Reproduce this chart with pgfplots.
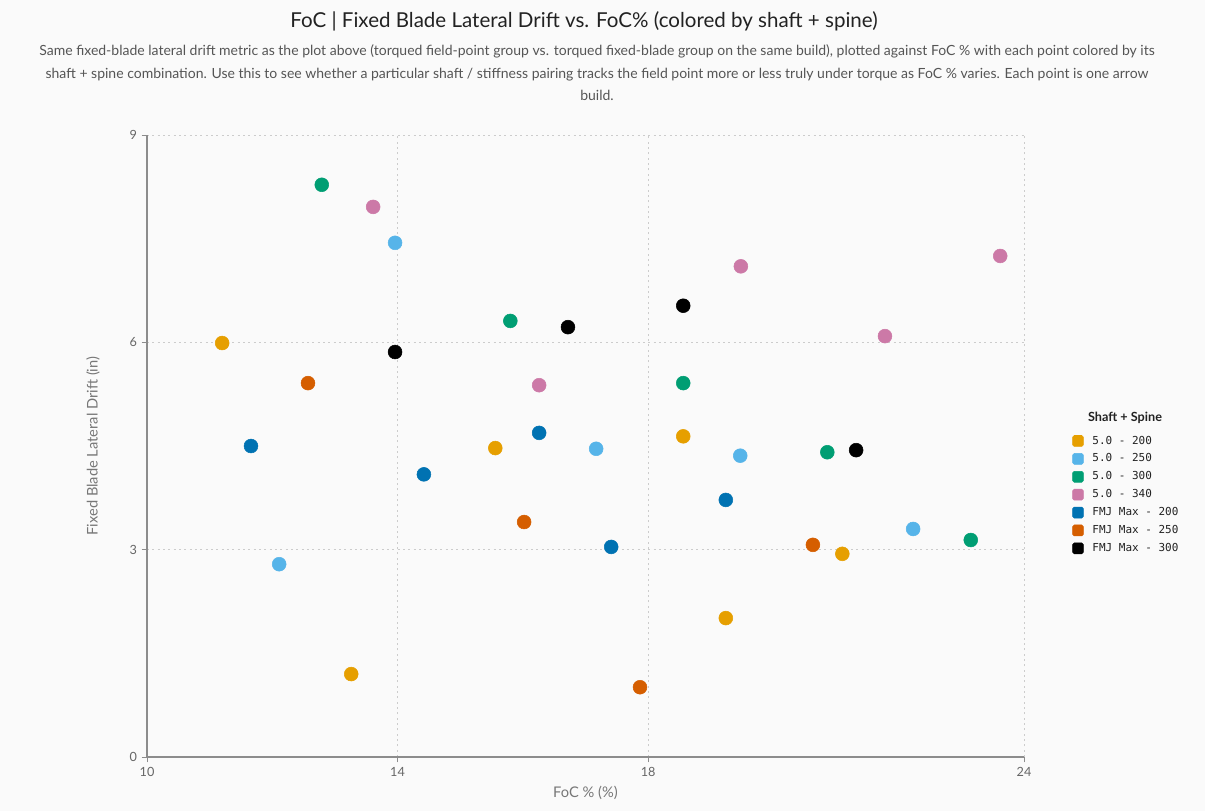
\documentclass[border=0pt]{standalone}
\usepackage{pgfplots}
\pgfplotsset{compat=1.18}
\usepackage{fontspec}
\setmainfont{Lato}
\newfontfamily\monofont{DejaVu Sans Mono}
\definecolor{bg}{HTML}{FAFAFA}
\definecolor{cA}{HTML}{E69F00}
\definecolor{cB}{HTML}{56B4E9}
\definecolor{cC}{HTML}{009E73}
\definecolor{cD}{HTML}{CC79A7}
\definecolor{cE}{HTML}{0072B2}
\definecolor{cF}{HTML}{D55E00}
\definecolor{cG}{HTML}{000000}
\definecolor{titlecol}{HTML}{222222}
\definecolor{subcol}{HTML}{555555}
\definecolor{tickgray}{HTML}{666666}
\definecolor{labelgray}{HTML}{777777}
\definecolor{axisgray}{HTML}{8C8C8C}
\definecolor{gridgray}{HTML}{CCCCCC}
\pgfplotsset{pt/.style={only marks, mark=*, mark size=5.2pt,
  mark options={draw=#1, fill=#1}, color=#1,
  legend image code/.code={\fill[#1, rounded corners=1.3pt] (0pt,-4.1pt) rectangle (8.2pt,4.1pt);}}}
\begin{document}
\begin{tikzpicture}
\fill[bg] (0,0) rectangle (903.75pt,-608.25pt);
\useasboundingbox (0,0) rectangle (903.75pt,-608.25pt);
\node[font=\fontsize{15.4}{18}\selectfont, text=titlecol] at (438pt,-15.75pt)
  {FoC | Fixed Blade Lateral Drift vs. FoC\% (colored by shaft + spine)};
\node[font=\fontsize{10.5}{17}\selectfont, text=subcol, align=center] at (447.75pt,-54.5pt)
  {Same fixed-blade lateral drift metric as the plot above (torqued field-point group vs. torqued fixed-blade group on the same build), plotted against FoC \% with each point colored by its\\
   shaft + spine combination. Use this to see whether a particular shaft / stiffness pairing tracks the field point more or less truly under torque as FoC \% varies. Each point is one arrow\\
   build.};
\node[font=\bfseries\fontsize{9.5}{11}\selectfont, text=titlecol] at (843.75pt,-313.5pt) {Shaft + Spine};
\begin{axis}[
  at={(110.25pt,-567.75pt)}, anchor=south west,
  scale only axis, width=657.75pt, height=466.5pt,
  xmin=10, xmax=24, ymin=0, ymax=9,
  xtick={10,14,18,24}, ytick={0,3,6,9},
  axis x line*=bottom, axis y line*=left,
  axis line style={draw=axisgray, line width=0.9pt, -},
  tick style={draw=axisgray, line width=0.75pt},
  major tick length=4pt, tick align=outside,
  grid=major,
  major grid style={draw=gridgray, dash pattern=on 1.5pt off 2.5pt, line width=0.75pt},
  ticklabel style={font=\fontsize{9.5}{11}\selectfont, text=tickgray},
  /pgf/number format/assume math mode=true,
  xlabel={FoC \% (\%)}, ylabel={Fixed Blade Lateral Drift (in)},
  label style={font=\fontsize{11}{13}\selectfont, text=labelgray},
  xlabel style={at={(axis description cs:0.5,-0.0579)}, anchor=center},
  ylabel style={at={(axis description cs:-0.0616,0.5)}, anchor=center},
  legend style={at={(1.0547,0.521)}, anchor=north west, draw=none, fill=none,
    font=\monofont\fontsize{8.25}{10}\selectfont, text=titlecol,
    row sep=1.8pt, inner sep=0pt,
    /tikz/every odd column/.append style={column sep=4.5pt}},
  legend cell align=left,
]
\addplot[pt=cA] coordinates {(11.20,5.99) (13.26,1.20) (15.56,4.47) (18.56,4.64) (19.24,2.01) (21.10,2.94)};
\addlegendentry{5.0 - 200}
\addplot[pt=cB] coordinates {(13.96,7.44) (12.11,2.79) (17.17,4.46) (19.47,4.36) (22.23,3.30)};
\addlegendentry{5.0 - 250}
\addplot[pt=cC] coordinates {(12.79,8.28) (15.80,6.31) (18.56,5.41) (20.86,4.41) (23.15,3.14)};
\addlegendentry{5.0 - 300}
\addplot[pt=cD] coordinates {(13.61,7.96) (16.26,5.38) (19.48,7.10) (21.78,6.09) (23.62,7.25)};
\addlegendentry{5.0 - 340}
\addplot[pt=cE] coordinates {(11.66,4.50) (14.42,4.09) (16.26,4.69) (17.41,3.04) (19.24,3.72)};
\addlegendentry{FMJ Max - 200}
\addplot[pt=cF] coordinates {(12.57,5.41) (16.02,3.40) (17.87,1.01) (20.63,3.07)};
\addlegendentry{FMJ Max - 250}
\addplot[pt=cG] coordinates {(13.96,5.86) (16.72,6.22) (18.56,6.53) (21.32,4.44)};
\addlegendentry{FMJ Max - 300}
\end{axis}
\end{tikzpicture}
\end{document}
